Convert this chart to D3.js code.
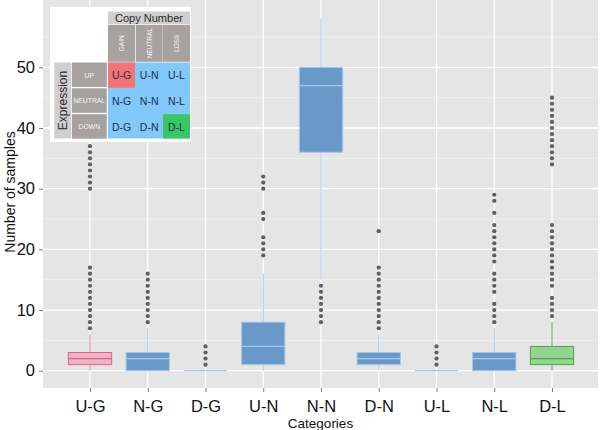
<!DOCTYPE html>
<html>
<head>
<meta charset="utf-8">
<script src="https://cdn.jsdelivr.net/npm/d3@7"></script>
<style>
  html, body { margin: 0; padding: 0; background: #fff; }
  svg { display: block; font-family: "Liberation Sans", Arial, Helvetica, sans-serif; }
</style>
</head>
<body>
<svg id="chart" width="600" height="430"></svg>
<script>
// ---------- DATA ----------
const categories = ["U-G", "N-G", "D-G", "U-N", "N-N", "D-N", "U-L", "N-L", "D-L"];
const q1Values     = [1, 0, 0, 1, 36, 1, 0, 0, 1];
const medianValues = [2, 2, 0, 4, 47, 2, 0, 2, 2];
const q3Values     = [3, 3, 0, 8, 50, 3, 0, 3, 4];
const whiskerLow   = [0, 0, 0, 0, 15, 0, 0, 0, 0];
const whiskerHigh  = [6, 7, 0, 16, 58, 6, 0, 7, 8];
const outlierValues = [
  [7, 8, 9, 10, 11, 12, 13, 14, 15, 16, 17, 30, 31, 32, 33, 34, 35, 36, 37],
  [8, 9, 10, 11, 12, 13, 14, 15, 16],
  [1, 2, 3, 4],
  [19, 20, 21, 22, 25, 26, 30, 31, 32],
  [8, 9, 10, 11, 12, 13, 14],
  [7, 8, 9, 10, 11, 12, 13, 14, 15, 16, 17, 23],
  [1, 2, 3, 4],
  [8, 9, 10, 11, 13, 14, 15, 16, 18, 19, 20, 21, 22, 23, 24, 26, 28, 29],
  [9, 10, 11, 12, 14, 15, 16, 17, 18, 19, 20, 21, 22, 23, 24, 34, 35, 36, 37, 38, 39, 40, 41, 42, 43, 44, 45]
];
const yTickValues = [0, 10, 20, 30, 40, 50];
const yMinorValues = [5, 15, 25, 35, 45, 55];
const groupOf = ["pink", "blue", "blue", "blue", "blue", "blue", "blue", "blue", "green"];

// legend content
const copyLabels = ["GAIN", "NEUTRAL", "LOSS"];
const exprLabels = ["UP", "NEUTRAL", "DOWN"];
const cellLabels = [["U-G", "U-N", "U-L"], ["N-G", "N-N", "N-L"], ["D-G", "D-N", "D-L"]];

// ---------- STYLES ----------
const palette = {
  pink:  { fill: "#efb3c4", stroke: "#d9658f", whisker: "#dd7fa0" },
  blue:  { fill: "#6899c8", stroke: "#a9c6e8", whisker: "#a9c6e8" },
  green: { fill: "#92d490", stroke: "#4fa24f", whisker: "#4fa24f" }
};

const svg = d3.select("#chart");
const panel = { left: 43, right: 598, top: 0, bottom: 388 };

const x = d3.scalePoint().domain(categories).range([90, 552]);
const y = d3.scaleLinear().domain([-2.85, 61.1]).range([panel.bottom, panel.top]);
const step = x.step();
const boxW = step * 0.75;

// panel background
svg.append("rect")
  .attr("x", panel.left).attr("y", panel.top)
  .attr("width", panel.right - panel.left).attr("height", panel.bottom - panel.top)
  .attr("fill", "#e5e5e5");

// minor grid
svg.append("g").selectAll("line").data(yMinorValues).join("line")
  .attr("x1", panel.left).attr("x2", panel.right)
  .attr("y1", d => y(d)).attr("y2", d => y(d))
  .attr("stroke", "#f2f2f2").attr("stroke-width", 0.7);

// major grid
svg.append("g").selectAll("line").data(yTickValues).join("line")
  .attr("x1", panel.left).attr("x2", panel.right)
  .attr("y1", d => y(d)).attr("y2", d => y(d))
  .attr("stroke", "#ffffff").attr("stroke-width", 1.3);
svg.append("g").selectAll("line").data(categories).join("line")
  .attr("x1", d => x(d)).attr("x2", d => x(d))
  .attr("y1", panel.top).attr("y2", panel.bottom)
  .attr("stroke", "#ffffff").attr("stroke-width", 1.3);

// boxes
const boxes = svg.append("g").selectAll("g").data(categories).join("g");
boxes.each(function(cat, i) {
  const g = d3.select(this);
  const c = palette[groupOf[i]];
  const cx = x(cat);
  // whiskers
  g.append("line").attr("x1", cx).attr("x2", cx)
    .attr("y1", y(q3Values[i])).attr("y2", y(whiskerHigh[i]))
    .attr("stroke", c.whisker).attr("stroke-width", 1);
  g.append("line").attr("x1", cx).attr("x2", cx)
    .attr("y1", y(q1Values[i])).attr("y2", y(whiskerLow[i]))
    .attr("stroke", c.whisker).attr("stroke-width", 1);
  // outliers
  g.selectAll("circle").data(outlierValues[i]).join("circle")
    .attr("cx", cx).attr("cy", d => y(d)).attr("r", 2.1)
    .attr("fill", "#5f5f5f");
  // box
  const top = y(q3Values[i]), bot = y(q1Values[i]);
  g.append("rect")
    .attr("x", cx - boxW / 2).attr("y", top)
    .attr("width", boxW).attr("height", Math.max(bot - top, 0))
    .attr("fill", c.fill).attr("stroke", c.stroke).attr("stroke-width", 1);
  g.append("line")
    .attr("x1", cx - boxW / 2).attr("x2", cx + boxW / 2)
    .attr("y1", y(medianValues[i])).attr("y2", y(medianValues[i]))
    .attr("stroke", c.stroke).attr("stroke-width", 1.2);
});

// axes
const yAxis = d3.axisLeft(y).tickValues(yTickValues).tickSize(4).tickPadding(4);
const yG = svg.append("g").attr("transform", `translate(${panel.left},0)`).call(yAxis);
yG.select(".domain").remove();
yG.selectAll(".tick line").attr("stroke", "#7f7f7f");
yG.selectAll(".tick text").attr("font-size", 16.5).attr("fill", "#111")
  .attr("font-family", "Liberation Sans, Arial, sans-serif");

const xAxis = d3.axisBottom(x).tickSize(4).tickPadding(8);
const xG = svg.append("g").attr("transform", `translate(0,${panel.bottom})`).call(xAxis);
xG.select(".domain").remove();
xG.selectAll(".tick line").attr("stroke", "#7f7f7f");
xG.selectAll(".tick text").attr("font-size", 16.5).attr("fill", "#111")
  .attr("font-family", "Liberation Sans, Arial, sans-serif");

// axis titles
svg.append("text")
  .attr("x", (panel.left + panel.right) / 2).attr("y", 428)
  .attr("text-anchor", "middle").attr("font-size", 13.5).attr("fill", "#111")
  .text("Categories");
svg.append("text")
  .attr("transform", `translate(15,${(panel.top + panel.bottom) / 2 - 2}) rotate(-90)`)
  .attr("text-anchor", "middle").attr("font-size", 14).attr("fill", "#111")
  .text("Number of samples");

// ---------- LEGEND INSET ----------
const L = svg.append("g");
const lightGray = "#cfcfcf", darkGray = "#a7a19f", cellBlue = "#82c8fa";
L.append("rect").attr("x", 50).attr("y", 7).attr("width", 141).attr("height", 135).attr("fill", "#fff");

const colX = [108, 135.7, 163];
const colW = 27;
const rowY = [62.5, 88.3, 114.2];
const rowH = 25.3;

// Copy Number header
L.append("rect").attr("x", 108).attr("y", 11.5).attr("width", 82).attr("height", 12.5).attr("fill", lightGray);
L.append("text").attr("x", 149).attr("y", 21.8).attr("text-anchor", "middle")
  .attr("font-size", 11).attr("fill", "#2a2a2a").text("Copy Number");

// column headers
copyLabels.forEach((lab, j) => {
  L.append("rect").attr("x", colX[j]).attr("y", 24.8).attr("width", colW).attr("height", 37)
    .attr("fill", darkGray);
  L.append("text")
    .attr("transform", `translate(${colX[j] + colW / 2 + 2.5},${24.8 + 18.5}) rotate(-90)`)
    .attr("text-anchor", "middle").attr("font-size", 6.5).attr("fill", "#f4f4f4").text(lab);
});

// Expression header
L.append("rect").attr("x", 54.3).attr("y", 62.5).attr("width", 16.7).attr("height", 76).attr("fill", lightGray);
L.append("text")
  .attr("transform", `translate(${54.3 + 8.35 + 4},${62.5 + 38}) rotate(-90)`)
  .attr("text-anchor", "middle").attr("font-size", 12).attr("fill", "#2a2a2a").text("Expression");

// row headers
exprLabels.forEach((lab, r) => {
  L.append("rect").attr("x", 71.8).attr("y", rowY[r]).attr("width", 35).attr("height", rowH - 0.8)
    .attr("fill", darkGray);
  L.append("text").attr("x", 71.8 + 17.5).attr("y", rowY[r] + rowH / 2 + 2.5)
    .attr("text-anchor", "middle").attr("font-size", 6.8).attr("fill", "#f4f4f4").text(lab);
});

// cell area
L.append("rect").attr("x", 108).attr("y", 62.5).attr("width", 82).attr("height", 76).attr("fill", cellBlue);
L.append("rect").attr("x", colX[0]).attr("y", rowY[0]).attr("width", colW).attr("height", rowH).attr("fill", "#f27474");
L.append("rect").attr("x", colX[2]).attr("y", rowY[2]).attr("width", 27).attr("height", 138.5 - rowY[2]).attr("fill", "#35c865");
cellLabels.forEach((row, r) => {
  row.forEach((lab, j) => {
    L.append("text").attr("x", colX[j] + colW / 2).attr("y", rowY[r] + rowH / 2 + 4)
      .attr("text-anchor", "middle").attr("font-size", 10.5).attr("fill", "#1b2f4f").text(lab);
  });
});
</script>
</body>
</html>
